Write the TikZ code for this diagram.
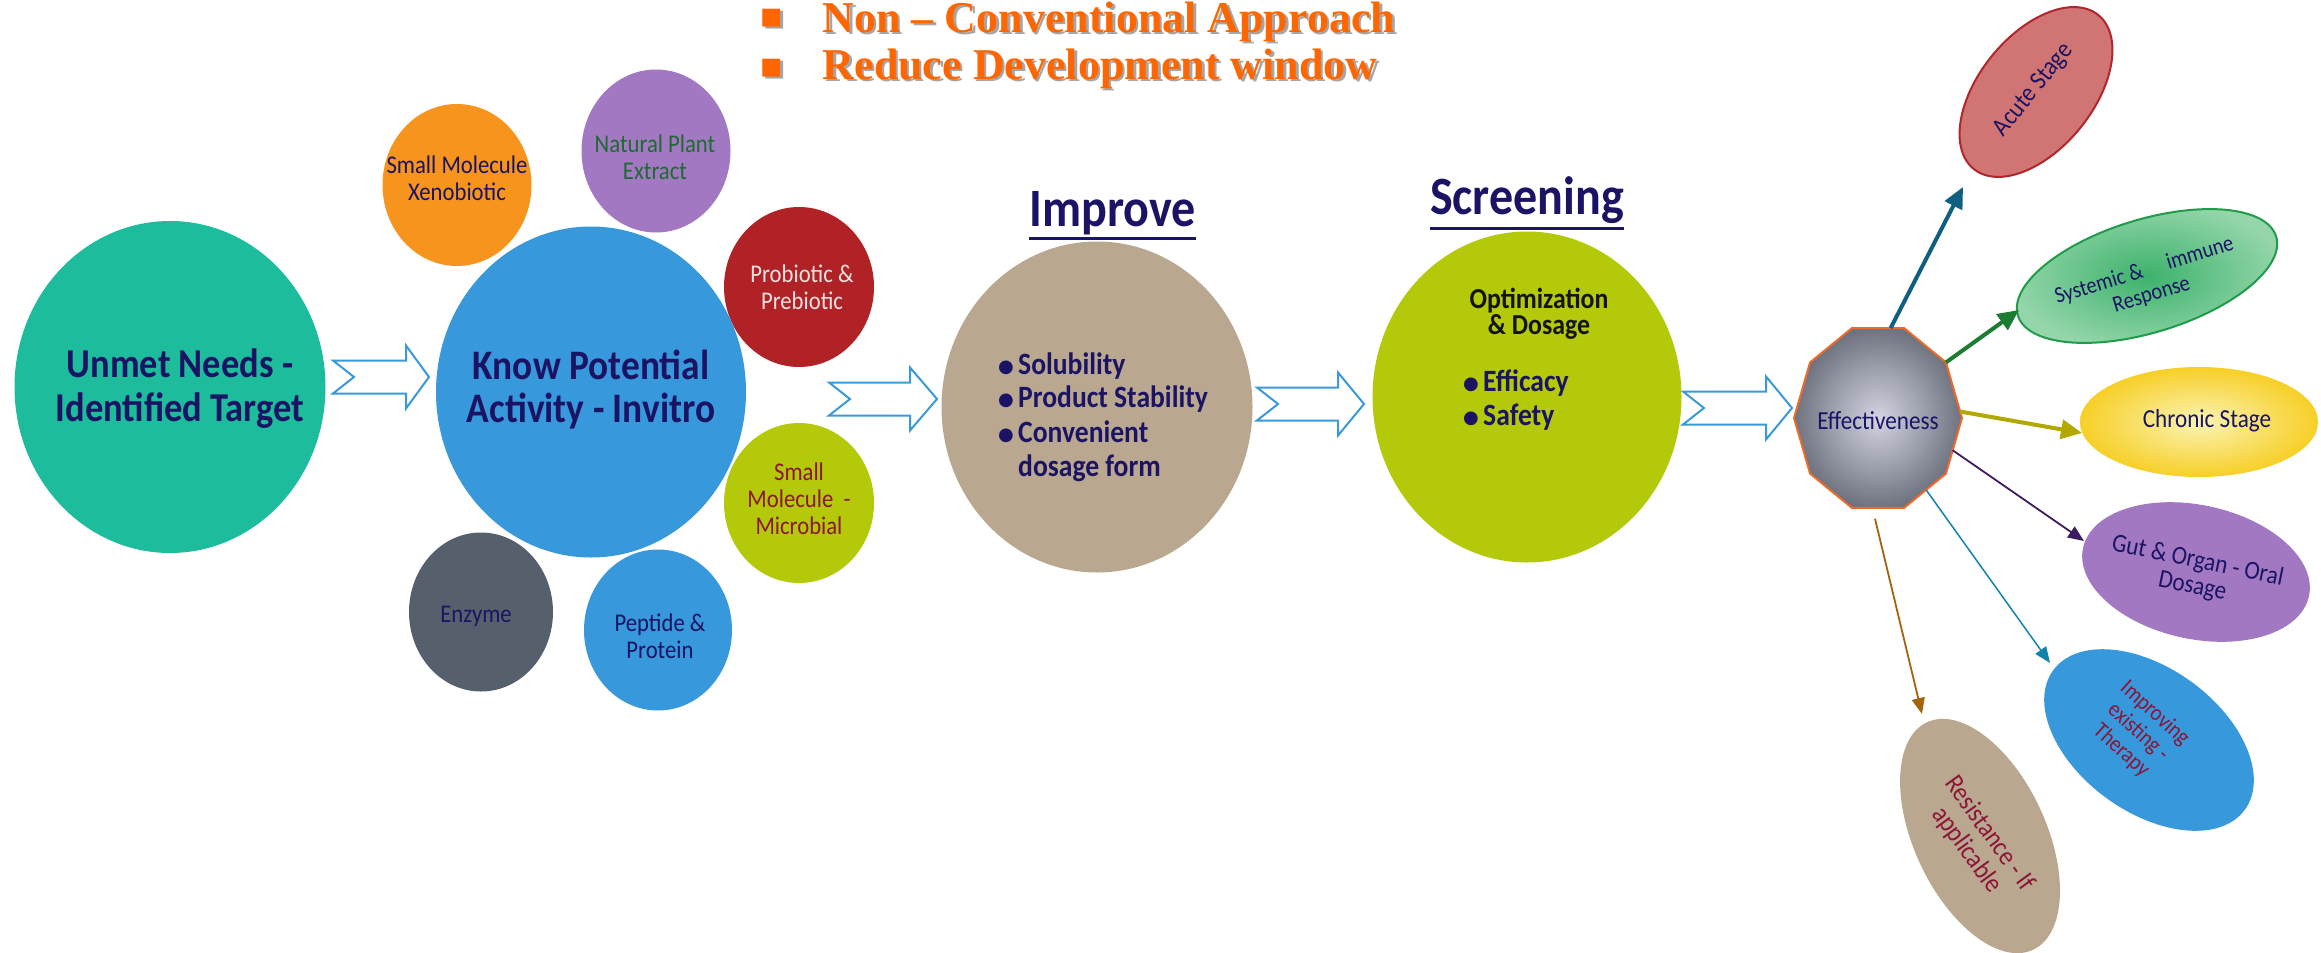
\documentclass[tikz,border=0pt]{standalone}
\usepackage{fontspec}
\setmainfont{Carlito}[FakeStretch=0.89]
\newfontfamily\topfont{Liberation Serif}
\newfontfamily\symfont{DejaVu Sans}
\usetikzlibrary{shapes.geometric,arrows.meta,calc}
\definecolor{navy}{HTML}{1B1464}
\definecolor{cteal}{HTML}{1DBC9C}
\definecolor{cblue}{HTML}{3798DB}
\definecolor{corange}{HTML}{F7941E}
\definecolor{cpurple}{HTML}{A378C2}
\definecolor{cdred}{HTML}{B02226}
\definecolor{cyg}{HTML}{B3C90A}
\definecolor{cgray}{HTML}{55606C}
\definecolor{ctan}{HTML}{B9A78F}
\definecolor{acfill}{HTML}{D07573}
\definecolor{acdraw}{HTML}{B0262B}
\definecolor{sysin}{HTML}{3DB26C}
\definecolor{sysout}{HTML}{94D6AA}
\definecolor{sysdraw}{HTML}{1F9B4A}
\definecolor{chrin}{HTML}{FAF4B4}
\definecolor{chrout}{HTML}{F7CF27}
\definecolor{effin}{HTML}{D4D4E2}
\definecolor{effout}{HTML}{6E737F}
\definecolor{effdraw}{HTML}{EE6A2A}
\definecolor{ttl}{HTML}{FF6600}
\definecolor{arrblue}{HTML}{3A9AD9}
\definecolor{lacute}{HTML}{0F5F80}
\definecolor{lsys}{HTML}{1C7C32}
\definecolor{lchr}{HTML}{B2A800}
\definecolor{lgut}{HTML}{3E1A5F}
\definecolor{limp}{HTML}{1283AC}
\definecolor{lres}{HTML}{A4630F}
\definecolor{cgreenT}{HTML}{1D6B30}
\definecolor{cmaroon}{HTML}{8C1538}
\definecolor{cpink}{HTML}{ECE2E2}
\newcommand{\bul}{\makebox[19pt][l]{\hspace*{-1pt}\symfont\fontsize{18}{18}\selectfont\raisebox{1.5pt}{●}}}
\tikzset{
  pics/barrow/.style args={#1/#2}{code={
    \draw[arrblue, line width=2pt, fill=white, line join=miter]
      (0,-16.5) -- (#1-#2,-16.5) -- (#1-#2,-31.5) -- (#1,0) -- (#1-#2,31.5)
      -- (#1-#2,16.5) -- (0,16.5) -- (21,0) -- cycle;
  }}
}
\begin{document}
\begin{tikzpicture}[x=1pt,y=-1pt,
  blob/.style={ellipse, inner sep=0pt, outer sep=0pt},
  txt/.style={inner sep=0pt, align=center, text=navy},
  small/.style={txt, font=\fontsize{25.5}{27}\selectfont},
  big/.style={txt, font=\bfseries\fontsize{41}{44}\selectfont},
  listtxt/.style={inner sep=0pt, anchor=base west, text=navy, font=\bfseries\fontsize{31}{34}\selectfont},
  outtxt/.style={txt, font=\fontsize{26}{27}\selectfont},
  thicklink/.style={line width=4pt, -{Triangle[length=21pt,width=19pt]}},
  thinlink/.style={line width=1.8pt, -{Triangle[length=16pt,width=13pt]}},
  toptxt/.style={anchor=base west, inner sep=0pt, font=\topfont\bfseries\fontsize{44}{44}\selectfont},
  topbul/.style={inner sep=0pt, font=\symfont\fontsize{36}{36}\selectfont}
]
\useasboundingbox (0,0) rectangle (2321,953);

% ---------- top bullet text ----------
\node[topbul, text=black!35] (b1s) at (774.5,20.5) {▪};
\node[topbul, text=ttl] (b1) at (772,18) {▪};
\node[topbul, text=black!35] (b2s) at (774.5,70.5) {▪};
\node[topbul, text=ttl] (b2) at (772,68) {▪};
\node[toptxt, text=black!35] (t1s) at (825,34.5) {Non – Conventional Approach};
\node[toptxt, text=ttl] (t1) at (822.5,32) {Non – Conventional Approach};
\node[toptxt, text=black!35] (t2s) at (825,81.5) {Reduce Development window};
\node[toptxt, text=ttl] (t2) at (822.5,79) {Reduce Development window};

% ---------- left cluster ----------
\node[blob, fill=cteal, minimum width=311pt, minimum height=332pt] (unmet) at (170,387) {};
\node[big] (unmett) at (180,389) {Unmet Needs -\\Identified Target};

\node[blob, fill=corange, minimum width=149pt, minimum height=162pt] (xeno) at (457,185) {};
\node[small] (xenot) at (457,178) {Small Molecule\\Xenobiotic};

\node[blob, fill=cpurple, minimum width=149pt, minimum height=163pt] (plant) at (656,151) {};
\node[small, text=cgreenT] (plantt) at (655,157) {Natural Plant\\Extract};

\node[blob, fill=cdred, minimum width=150pt, minimum height=160pt] (probio) at (799,287) {};
\node[small, text=cpink] (probiot) at (802,287) {Probiotic \&\\Prebiotic};

\node[blob, fill=cyg, minimum width=150pt, minimum height=160pt] (micro) at (799,503) {};
\node[small, text=cmaroon] (microt) at (799,499) {Small\\Molecule\ \ -\\Microbial};

\node[blob, fill=cgray, minimum width=144pt, minimum height=159pt] (enzyme) at (481,612) {};
\node[small] (enzymet) at (476,616) {Enzyme};

\node[blob, fill=cblue, minimum width=148pt, minimum height=161pt] (peptide) at (658,630) {};
\node[small] (peptidet) at (660,636) {Peptide \&\\Protein};

\node[blob, fill=cblue, minimum width=310pt, minimum height=331pt] (know) at (591,392) {};
\node[big, font=\bfseries\fontsize{42}{43}\selectfont] (knowt) at (591,390) {Know Potential\\Activity - Invitro};

% ---------- block arrows ----------
\pic at (333,377) {barrow=96/23};
\pic at (829,399) {barrow=108/27};
\pic at (1257,404) {barrow=107/26};
\pic at (1683,408) {barrow=109/26};

% ---------- Improve ----------
\node[txt, anchor=base, font=\bfseries\fontsize{54}{54}\selectfont] (impt) at (1112.5,226) {Improve};
\draw[navy, line width=3pt] ($(impt.base west)+(0,12)$) -- ($(impt.base east)+(0,12)$);
\node[blob, fill=ctan, minimum width=311pt, minimum height=331pt] (improve) at (1097,407) {};
\node[listtxt] (l1) at (999,374) {\bul Solubility};
\node[listtxt] (l2) at (999,407) {\bul Product Stability};
\node[listtxt] (l3) at (999,442) {\bul Convenient};
\node[listtxt] (l4) at (1018,476) {dosage form};

% ---------- Screening ----------
\node[txt, anchor=base, font=\bfseries\fontsize{54}{54}\selectfont] (scrt) at (1527,214) {Screening};
\draw[navy, line width=3pt] ($(scrt.base west)+(0,14)$) -- ($(scrt.base east)+(0,14)$);
\node[blob, fill=cyg, minimum width=309pt, minimum height=331pt] (screen) at (1527,397) {};
\node[txt, text=black!92, font=\bfseries\fontsize{29}{26}\selectfont] (optt) at (1539,314) {Optimization\\\& Dosage};
\node[listtxt] (s1) at (1464,391) {\bul Efficacy};
\node[listtxt] (s2) at (1464,425) {\bul Safety};

% ---------- Effectiveness ----------
\node[regular polygon, regular polygon sides=10, minimum size=168pt, inner sep=0pt, outer sep=0pt,
      yscale=1.126, draw=effdraw, line width=2pt, inner color=effin, outer color=effout] (eff) at (1878,418) {};
\node[txt, font=\fontsize{26}{27}\selectfont] (efft) at (1878,421) {Effectiveness};

% ---------- outcome ellipses ----------
\node[blob, fill=acfill, draw=acdraw, line width=2pt, minimum width=198pt, minimum height=114pt, rotate=51] (acute) at (2036,92) {};
\node[outtxt, rotate=51] (acutet) at (2034,90) {Acute Stage};

\node[blob, draw=sysdraw, line width=2pt, inner color=sysin, outer color=sysout, minimum width=270pt, minimum height=113pt, rotate=17] (sys) at (2147,276) {};
\node[outtxt, rotate=17, font=\fontsize{23}{25}\selectfont] (syst) at (2148,283) {Systemic \&\hspace{0.9em} immune\\Response};

\node[blob, inner color=chrin, outer color=chrout, minimum width=238pt, minimum height=110pt] (chron) at (2199,422) {};
\node[outtxt] (chront) at (2207,421) {Chronic Stage};

\node[blob, fill=cpurple, minimum width=231pt, minimum height=134pt, rotate=-12] (gut) at (2196,572) {};
\node[outtxt, rotate=-11.5, font=\fontsize{26}{26}\selectfont] (gutt) at (2195,574) {Gut \& Organ - Oral\\Dosage};

\node[blob, fill=cblue, minimum width=237pt, minimum height=144pt, rotate=-36] (impr) at (2149,740) {};
\node[outtxt, text=cmaroon, rotate=-42, font=\fontsize{23}{25}\selectfont] (imprt) at (2138,732) {Improving\\existing -\\Therapy};

\node[blob, fill=ctan, minimum width=251pt, minimum height=132pt, rotate=-65] (resist) at (1980,836) {};
\node[outtxt, text=cmaroon, rotate=-54, font=\fontsize{27}{28}\selectfont] (resistt) at (1978,842) {Resistance - If\\applicable};

% ---------- connectors ----------
\coordinate (tA) at (1963,187);
\coordinate (tS) at (2019,310);
\coordinate (tC) at (2082,433);
\coordinate (tG) at (2084,541);
\coordinate (tI) at (2050,663);
\coordinate (tR) at (1922,714);
\draw[thicklink, lacute] (eff.81) -- (tA);
\draw[thicklink, lsys] (eff.36) -- (tS);
\draw[thicklink, lchr] (eff.4) -- (tC);
\draw[thinlink, lgut] (eff.-21) -- (tG);
\draw[thinlink, limp, line width=1.5pt] (eff.-53) -- (tI);
\draw[thinlink, lres, shorten <=11pt] (eff.-94) -- (tR);
\end{tikzpicture}
\end{document}
